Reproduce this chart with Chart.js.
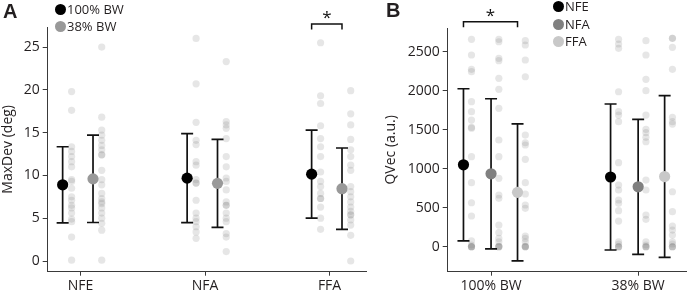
<!DOCTYPE html>
<html><head><meta charset="utf-8">
<script src="https://cdn.jsdelivr.net/npm/chart.js@4/dist/chart.umd.min.js"></script>
<style>
body{margin:0;background:#fff;width:692px;height:295px;overflow:hidden;position:relative;font-family:"Open Sans",sans-serif;color:#231f20}
canvas{position:absolute;top:0}
#ca{left:0}
#cb{left:372px}
.lg{position:absolute;font-size:13px;white-space:nowrap}
.lg div{height:16.5px;line-height:16.5px}
.lg i{display:inline-block;width:11px;height:11px;border-radius:50%;vertical-align:-1px;margin-right:1px}
.pl{position:absolute;font:bold 20px "Liberation Sans",Arial,sans-serif;line-height:20px}
</style></head>
<body>
<canvas id="ca" width="372" height="295"></canvas>
<canvas id="cb" width="320" height="295"></canvas>
<div class="pl" style="left:3px;top:1px">A</div>
<div class="pl" style="left:386px;top:0px">B</div>
<div class="lg" style="left:55px;top:1px">
  <div><i style="background:#000"></i>100% BW</div>
  <div><i style="background:#999"></i>38% BW</div>
</div>
<div class="lg" style="left:553px;top:-2px">
  <div style="height:17.5px"><i style="background:#000"></i>NFE</div>
  <div style="height:17.5px"><i style="background:#808080"></i>NFA</div>
  <div style="height:17.5px"><i style="background:#c8c8c8"></i>FFA</div>
</div>
<script>
// ---------- Panel A data ----------
const groupsA = ['NFE', 'NFA', 'FFA'];
const seriesA = ['100% BW', '38% BW'];
const meanA100 = [8.9, 9.68, 10.15];
const sdA100 = [4.45, 5.2, 5.15];
const meanA38 = [9.6, 9.07, 8.45];
const sdA38 = [5.1, 5.13, 4.75];
const ptsA_NFE_100 = [19.8, 17.6, 13.35, 12.8, 12.2, 11.6, 11.0, 9.5, 9.3, 8.5, 7.5, 7.1, 6.5, 6.2, 5.6, 4.9, 4.6, 2.8, 0.1];
const ptsA_NFE_38 = [25.0, 16.8, 15.3, 14.7, 14.1, 13.5, 13.0, 12.4, 12.4, 10.6, 9.5, 8.9, 7.9, 7.3, 6.9, 6.7, 6.2, 5.6, 5.0, 4.4, 3.6, 0.1];
const ptsA_NFA_100 = [26.0, 20.7, 16.2, 14.1, 13.6, 11.6, 11.2, 9.5, 9.1, 9.1, 7.1, 5.6, 5.0, 4.6, 4.0, 3.4, 2.65];
const ptsA_NFA_38 = [23.3, 16.3, 15.9, 15.5, 14.3, 12.2, 11.0, 9.7, 9.3, 8.3, 6.9, 6.5, 6.5, 5.6, 5.0, 4.6, 3.2, 2.8, 1.1];
const ptsA_FFA_100 = [25.5, 19.3, 18.4, 15.8, 14.3, 13.35, 12.2, 10.4, 9.3, 8.7, 7.9, 7.3, 7.3, 6.3, 5.0, 3.7];
const ptsA_FFA_38 = [19.9, 17.2, 15.9, 14.2, 13.0, 12.2, 11.2, 10.6, 8.7, 8.1, 7.5, 6.9, 6.3, 5.8, 5.4, 5.4, 4.8, 4.2, 3.0, 0.0];
const yTicksA = [0, 5, 10, 15, 20, 25];

// ---------- Panel B data ----------
const groupsB = ['100% BW', '38% BW'];
const seriesB = ['NFE', 'NFA', 'FFA'];
const meanB_NFE = [1050, 894];
const sdB_NFE = [975, 936];
const meanB_NFA = [935, 768];
const sdB_NFA = [962, 865];
const meanB_FFA = [697, 900];
const sdB_FFA = [877, 1036];
const ptsB_100_NFE = [2659, 2458, 2274, 2244, 1859, 1731, 1624, 1530, 1520, 1154, 821, 564, 394, 77, 22, 0, 0, 0, 0];
const ptsB_100_NFA = [2659, 2628, 2415, 2385, 2159, 2018, 1774, 1368, 1154, 877, 663, 620, 278, 180, 107, 64, 9, 0, 0, 0];
const ptsB_100_FFA = [2641, 2586, 2394, 2179, 1432, 1333, 1304, 1120, 821, 676, 535, 492, 137, 107, 64, 9, 0, 0, 0];
const ptsB_38_NFE = [2659, 2599, 2543, 1987, 1731, 1688, 1603, 1077, 791, 727, 599, 556, 462, 329, 64, 35, 0, 0, 0];
const ptsB_38_NFA = [2641, 2458, 2146, 2000, 1688, 1505, 1462, 1402, 1346, 855, 727, 406, 351, 64, 22, 0, 0, 0];
const ptsB_38_FFA = [2672, 2672, 2556, 2274, 1659, 1603, 1573, 705, 449, 265, 214, 150, 64, 35, 0, 0, 0];
const yTicksB = [0, 500, 1000, 1500, 2000, 2500];

// ---------- styling / layout ----------
const FONT = '"Open Sans", sans-serif';
const TXT = '#231f20';
const AX = '#3a3a3a';
const DOT = 'rgba(105,105,105,0.17)';

const errPlugin = {
  id: 'errbars',
  beforeDatasetDraw(chart, args) {
    const ds = chart.data.datasets[args.index];
    if (!ds.errors) return;
    const ctx = chart.ctx, xs = chart.scales.x, ys = chart.scales.y;
    ctx.save();
    ctx.strokeStyle = '#111';
    ctx.lineWidth = 1.7;
    ds.data.forEach((p, i) => {
      const x = xs.getPixelForValue(p.x);
      const y1 = ys.getPixelForValue(p.y - ds.errors[i]);
      const y2 = ys.getPixelForValue(p.y + ds.errors[i]);
      ctx.beginPath();
      ctx.moveTo(x, y1); ctx.lineTo(x, y2);
      ctx.moveTo(x - 6, y1); ctx.lineTo(x + 6, y1);
      ctx.moveTo(x - 6, y2); ctx.lineTo(x + 6, y2);
      ctx.stroke();
    });
    ctx.restore();
  },
  afterDraw(chart) {
    const b = chart.options.plugins.errbars && chart.options.plugins.errbars.bracket;
    if (!b) return;
    const ctx = chart.ctx, xs = chart.scales.x, ys = chart.scales.y;
    const x1 = xs.getPixelForValue(b.x1), x2 = xs.getPixelForValue(b.x2);
    const yt = ys.getPixelForValue(b.yTop), yl = ys.getPixelForValue(b.yLeg);
    ctx.save();
    ctx.strokeStyle = '#111'; ctx.lineWidth = 1.5;
    ctx.beginPath();
    ctx.moveTo(x1, yl); ctx.lineTo(x1, yt); ctx.lineTo(x2, yt); ctx.lineTo(x2, yl);
    ctx.stroke();
    ctx.fillStyle = '#111';
    ctx.font = '17px ' + FONT;
    ctx.textAlign = 'center'; ctx.textBaseline = 'middle';
    ctx.fillText('*', (x1 + x2) / 2, yt - 6);
    ctx.restore();
  }
};

function scatterDs(vals, xv) {
  return { data: vals.map(v => ({ x: xv, y: v })), backgroundColor: DOT, borderWidth: 0, pointRadius: 3.6 };
}
function meanDs(label, means, sds, xs, color) {
  return { label, data: means.map((m, i) => ({ x: xs[i], y: m })), errors: sds, backgroundColor: color, borderWidth: 0, pointRadius: 5.6 };
}
function axes(cfg) {
  return {
    x: {
      type: 'linear', min: cfg.xmin, max: cfg.xmax,
      afterBuildTicks: s => { s.ticks = cfg.labels.map((l, i) => ({ value: i + 1 })); },
      afterFit: s => { s.height = 23.3; },
      grid: { drawOnChartArea: false, tickLength: 4, color: AX, lineWidth: 1 },
      border: { color: AX, width: 1 },
      ticks: { callback: (v, i) => cfg.labels[i], font: { family: FONT, size: 14 }, color: TXT, padding: 2, maxRotation: 0, autoSkip: false }
    },
    y: {
      min: cfg.ymin, max: cfg.ymax,
      afterBuildTicks: s => { s.ticks = cfg.yticks.map(v => ({ value: v })); },
      afterFit: s => { s.width = cfg.yw; },
      grid: { drawOnChartArea: false, tickLength: 5, color: AX, lineWidth: 1 },
      border: { color: AX, width: 1 },
      ticks: { callback: v => String(v), font: { family: FONT, size: 14 }, color: TXT, padding: 3 },
      title: { display: true, text: cfg.ytitle, font: { family: FONT, size: 14 }, color: TXT, padding: { top: cfg.tpad, bottom: 0 } }
    }
  };
}

// Panel A offsets within category
const oA = { m1: -0.144, s1: -0.072, m2: 0.1, s2: 0.17 };
const dsA = [
  meanDs(seriesA[0], meanA100, sdA100, [1, 2, 3].map(g => g + oA.m1), '#000'),
  meanDs(seriesA[1], meanA38, sdA38, [1, 2, 3].map(g => g + oA.m2), '#999'),
  scatterDs(ptsA_NFE_100, 1 + oA.s1), scatterDs(ptsA_NFE_38, 1 + oA.s2),
  scatterDs(ptsA_NFA_100, 2 + oA.s1), scatterDs(ptsA_NFA_38, 2 + oA.s2),
  scatterDs(ptsA_FFA_100, 3 + oA.s1), scatterDs(ptsA_FFA_38, 3 + oA.s2)
];
new Chart(document.getElementById('ca'), {
  type: 'scatter',
  data: { datasets: dsA },
  plugins: [errPlugin],
  options: {
    responsive: false, animation: false, devicePixelRatio: 1,
    layout: { padding: { top: 27, right: 5, left: 0, bottom: 0 } },
    plugins: { legend: { display: false }, tooltip: { enabled: false },
      errbars: { bracket: { x1: 3 + oA.m1, x2: 3 + oA.m2, yTop: 27.7, yLeg: 27.05 } } },
    scales: axes({ xmin: 0.736, xmax: 3.296, labels: groupsA, ymin: -1.25, ymax: 27.34, yticks: yTicksA, yw: 47.7, ytitle: 'MaxDev (deg)', tpad: 0 })
  }
});

// Panel B offsets within category
const oB = { m: [-0.1875, 0, 0.18], s: [-0.133, 0.053, 0.233] };
const dsB = [
  meanDs(seriesB[0], meanB_NFE, sdB_NFE, [1, 2].map(g => g + oB.m[0]), '#000'),
  meanDs(seriesB[1], meanB_NFA, sdB_NFA, [1, 2].map(g => g + oB.m[1]), '#808080'),
  meanDs(seriesB[2], meanB_FFA, sdB_FFA, [1, 2].map(g => g + oB.m[2]), '#c8c8c8'),
  scatterDs(ptsB_100_NFE, 1 + oB.s[0]), scatterDs(ptsB_100_NFA, 1 + oB.s[1]), scatterDs(ptsB_100_FFA, 1 + oB.s[2]),
  scatterDs(ptsB_38_NFE, 2 + oB.s[0]), scatterDs(ptsB_38_NFA, 2 + oB.s[1]), scatterDs(ptsB_38_FFA, 2 + oB.s[2])
];
new Chart(document.getElementById('cb'), {
  type: 'scatter',
  data: { datasets: dsB },
  plugins: [errPlugin],
  options: {
    responsive: false, animation: false, devicePixelRatio: 1,
    layout: { padding: { top: 28, right: 2, left: 0, bottom: 0 } },
    plugins: { legend: { display: false }, tooltip: { enabled: false },
      errbars: { bracket: { x1: 1 + oB.m[0], x2: 1 + oB.m[2], yTop: 2885, yLeg: 2815 } } },
    scales: axes({ xmin: 0.7053, xmax: 2.328, labels: groupsB, ymin: -320, ymax: 2804, yticks: yTicksB, yw: 75.7, ytitle: 'QVec (a.u.)', tpad: 11 })
  }
});
</script>
</body></html>
